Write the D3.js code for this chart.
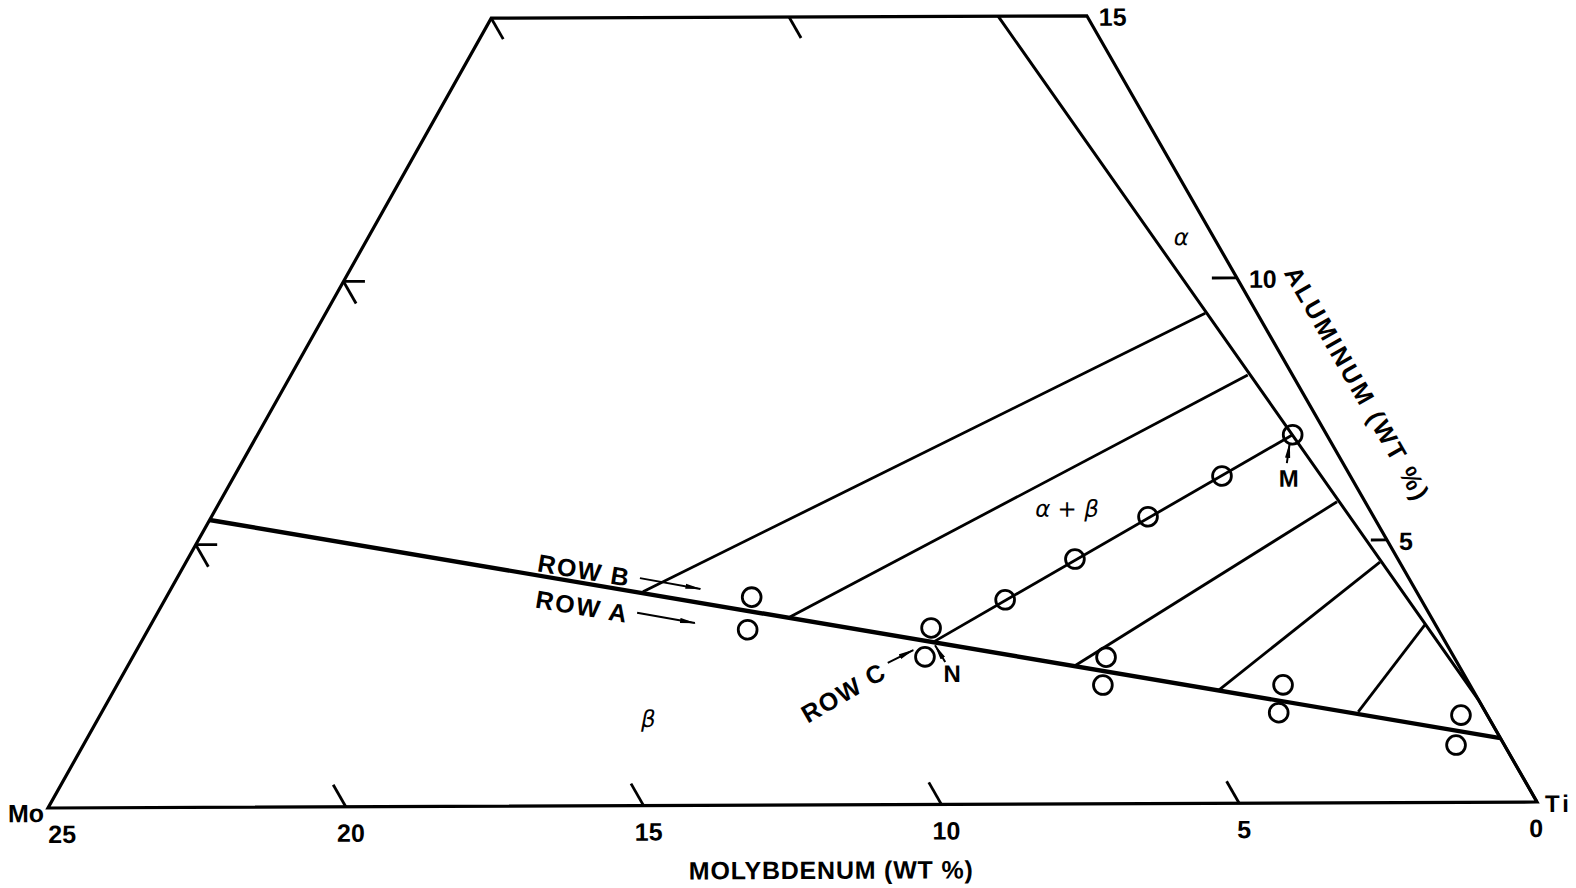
<!DOCTYPE html>
<html>
<head>
<meta charset="utf-8">
<script src="https://cdn.jsdelivr.net/npm/d3@7"></script>
<style>
  html, body { margin: 0; padding: 0; background: #fff; }
</style>
</head>
<body>
<div id="chart"></div>
<script>
// Ti corner of the Ti-Mo-Al system, wt %. Points are [Mo, Al].

const moTicks = [25, 20, 15, 10, 5, 0];
const alTicks = [15, 10, 5];
const frame = [[0, 0], [25, 0], [10, 15], [0, 15]];

// phase boundaries
const betaBoundary = [[19.53, 5.47], [0, 1.22]];
const alphaBoundary = [[1.49, 15], [0, 1.95], [0, 0]];

// tie lines, from the beta boundary to the alpha boundary
const tieStart = [[12.96, 4.07], [10.74, 3.58], [8.58, 3.09], [6.47, 2.61], [4.28, 2.14], [2.13, 1.73]];
const tieEnd = [[0.87, 9.33], [0.75, 8.15], [0.57, 7.01], [0.47, 5.73], [0.33, 4.58], [0.18, 3.38]];

// alloy compositions
const rowB = [[11.19, 3.96], [8.48, 3.36], [5.83, 2.79], [3.13, 2.25], [0.44, 1.66]];
const rowA = [[11.57, 3.34], [8.86, 2.81], [6.15, 2.26], [3.47, 1.72], [0.81, 1.09]];
const rowC = [[6.97, 3.89], [5.41, 4.66], [3.78, 5.46], [2.15, 6.23], [0.57, 7.01]];

// labels inside the field
const phaseNames = ["α", "α + β", "β"];
const phaseAt = [[0.55, 10.76], [5.07, 5.6], [14.1, 1.63]];
const rowNames = ["ROW B", "ROW A", "ROW C"];
const rowNameAt = [[13.75, 4.49], [14.13, 3.8], [10.58, 2.13]];
const arrowFrom = [[12.88, 4.33], [13.26, 3.67], [9.54, 2.70], [8.57, 2.71], [0.94, 6.47]];
const arrowTo = [[11.97, 4.12], [12.39, 3.47], [8.99, 2.94], [8.58, 3.03], [0.70, 6.85]];
const pointNames = ["M", "N"];
const pointNameAt = [[1.05, 6.19], [8.56, 2.5]];

(function () {
    const W = 1576, H = 888;
    const font = "'Liberation Sans', Arial, sans-serif";

    const xMo = d3.scaleLinear().domain([0, 25]).range([1537, 48]);
    const xAl = d3.scaleLinear().domain([0, 15]).range([0, -447]);
    const yAl = d3.scaleLinear().domain([0, 15]).range([805, 17]);
    const proj = ([mo, al]) => [xMo(mo) + xAl(al), yAl(al)];
    const line = d3.line().x(d => proj(d)[0]).y(d => proj(d)[1]);

    const svg = d3.create("svg")
        .attr("width", W).attr("height", H)
        .attr("viewBox", [0, 0, W, H])
        .style("display", "block")
        .style("background", "#fff");

    svg.append("defs").append("marker")
        .attr("id", "dart")
        .attr("viewBox", "0 -3 16 6")
        .attr("markerUnits", "userSpaceOnUse")
        .attr("markerWidth", 16).attr("markerHeight", 6)
        .attr("refX", 15).attr("refY", 0)
        .attr("orient", "auto")
        .append("path").attr("d", "M0,-2.6L16,0L0,2.6Z").attr("fill", "#000");

    // the scan is turned a little
    const g = svg.append("g").attr("transform", "rotate(-0.23, 792, 805)");

    // frame
    g.append("path")
        .attr("d", line(frame) + "Z")
        .attr("fill", "none").attr("stroke", "#000")
        .attr("stroke-width", 3.2).attr("stroke-linejoin", "miter");

    // ticks
    const ticks = [];
    moTicks.filter(m => m > 0 && m < 25).forEach(m => ticks.push([[m, 0], [m, 0.42]]));
    [10, 5].forEach(m => ticks.push([[m, 15], [m, 14.6]]));
    [10, 5].forEach(a => {
        ticks.push([[25 - a, a], [25 - a - 0.36, a]]);
        ticks.push([[25 - a, a], [25 - a, a - 0.42]]);
    });
    ticks.push([[0, 10], [0.42, 10]]);
    ticks.push([[0, 5], [0.27, 5]]);
    g.append("g")
        .selectAll("path").data(ticks).join("path")
        .attr("d", line)
        .attr("fill", "none").attr("stroke", "#000").attr("stroke-width", 2.8);

    // boundaries
    g.append("path").attr("d", line(betaBoundary))
        .attr("fill", "none").attr("stroke", "#000").attr("stroke-width", 4.4);
    g.append("path").attr("d", line(alphaBoundary))
        .attr("fill", "none").attr("stroke", "#000").attr("stroke-width", 3);

    g.append("g")
        .selectAll("path").data(d3.zip(tieStart, tieEnd)).join("path")
        .attr("d", line)
        .attr("fill", "none").attr("stroke", "#000").attr("stroke-width", 2.8);

    // alloys
    g.append("g")
        .selectAll("circle").data(rowA.concat(rowB, rowC)).join("circle")
        .attr("cx", d => proj(d)[0])
        .attr("cy", d => proj(d)[1])
        .attr("r", 9.4)
        .attr("fill", "none").attr("stroke", "#000").attr("stroke-width", 2.8);

    // arrows
    g.append("g")
        .selectAll("path").data(d3.zip(arrowFrom, arrowTo)).join("path")
        .attr("d", line)
        .attr("stroke", "#000").attr("stroke-width", 2)
        .attr("marker-end", "url(#dart)");

    // axis numbers
    const bottom = g.append("g")
        .attr("font-family", font).attr("font-weight", "bold")
        .attr("font-size", 25).attr("text-anchor", "middle");
    bottom.selectAll("text").data(moTicks).join("text")
        .attr("x", m => proj([m, 0])[0] + (m === 25 ? 14 : m === 0 ? -1 : 5))
        .attr("y", m => proj([m, 0])[1] + 35)
        .text(m => m);

    g.append("g")
        .attr("font-family", font).attr("font-weight", "bold").attr("font-size", 25)
        .selectAll("text").data(alTicks).join("text")
        .attr("x", a => proj([0, a])[0] + 12)
        .attr("y", a => proj([0, a])[1] + 10)
        .text(a => a);

    // corner names
    const [moX, moY] = proj([25, 0]);
    g.append("text")
        .attr("x", moX - 4).attr("y", moY + 14)
        .attr("text-anchor", "end")
        .attr("font-family", font).attr("font-weight", "bold").attr("font-size", 25)
        .text("Mo");
    const [tiX, tiY] = proj([0, 0]);
    g.append("text")
        .attr("x", tiX + 8).attr("y", tiY + 10)
        .attr("font-family", font).attr("font-weight", "bold").attr("font-size", 24)
        .attr("letter-spacing", 3)
        .text("Ti");

    // axis titles
    g.append("text")
        .attr("x", (xMo(15) + xMo(10)) / 2 + 38).attr("y", yAl(0) + 74)
        .attr("text-anchor", "middle")
        .attr("font-family", font).attr("font-weight", "bold").attr("font-size", 25)
        .attr("textLength", 284).attr("lengthAdjust", "spacing")
        .text("MOLYBDENUM (WT %)");

    const [alX, alY] = proj([0, 8]);
    g.append("text")
        .attr("transform", `translate(${alX},${alY}) rotate(60.4)`)
        .attr("x", 30).attr("y", -43)
        .attr("text-anchor", "middle")
        .attr("font-family", font).attr("font-weight", "bold").attr("font-size", 25)
        .attr("textLength", 264).attr("lengthAdjust", "spacing")
        .text("ALUMINUM (WT %)");

    // phase fields
    g.append("g")
        .attr("font-family", "'DejaVu Sans', sans-serif").attr("font-style", "italic")
        .attr("font-size", 23).attr("text-anchor", "middle")
        .selectAll("text").data(phaseNames).join("text")
        .attr("x", (d, i) => proj(phaseAt[i])[0])
        .attr("y", (d, i) => proj(phaseAt[i])[1] + 7)
        .text(d => d);

    // row names, turned along their lines
    const rowAngle = [9.6, 9.6, -30];
    g.append("g")
        .attr("font-family", font).attr("font-weight", "bold")
        .attr("font-size", 25).attr("text-anchor", "middle")
        .selectAll("text").data(rowNames).join("text")
        .attr("transform", (d, i) => {
            const [x, y] = proj(rowNameAt[i]);
            return `translate(${x},${y}) rotate(${rowAngle[i]})`;
        })
        .attr("y", 9)
        .attr("textLength", 92).attr("lengthAdjust", "spacing")
        .text(d => d);

    g.append("g")
        .attr("font-family", font).attr("font-weight", "bold")
        .attr("font-size", 24).attr("text-anchor", "middle")
        .selectAll("text").data(pointNames).join("text")
        .attr("x", (d, i) => proj(pointNameAt[i])[0])
        .attr("y", (d, i) => proj(pointNameAt[i])[1] + 9)
        .text(d => d);

    document.getElementById("chart").appendChild(svg.node());
})();
</script>
</body>
</html>
